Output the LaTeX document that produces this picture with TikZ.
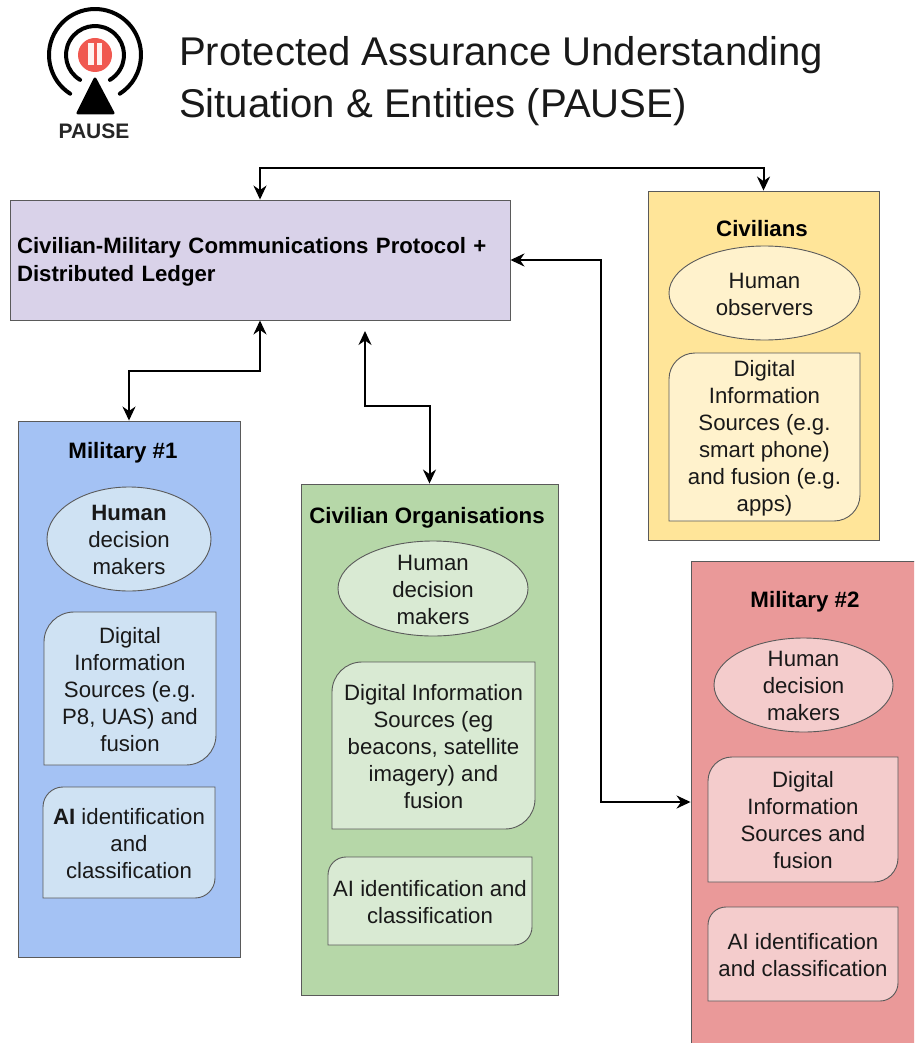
\documentclass[tikz,border=0pt]{standalone}
\usepackage{fontspec}
\setmainfont{Liberation Sans}
\usetikzlibrary{arrows.meta, calc, positioning}
\definecolor{lineg}{RGB}{90,90,90}
\definecolor{ledgerc}{RGB}{217,210,233}
\definecolor{milonec}{RGB}{164,194,244}
\definecolor{milonel}{RGB}{207,226,243}
\definecolor{orgc}{RGB}{182,215,168}
\definecolor{orgl}{RGB}{217,234,211}
\definecolor{civc}{RGB}{255,229,153}
\definecolor{civl}{RGB}{255,242,204}
\definecolor{miltwoc}{RGB}{234,153,153}
\definecolor{miltwol}{RGB}{244,204,204}
\definecolor{pausered}{RGB}{240,88,80}
\tikzset{
  panel/.style={draw=lineg, line width=0.9pt, inner sep=0pt},
  inbox/.style={draw=lineg, line width=0.9pt},
  body/.style={align=center, inner sep=0pt, text=black!90, font=\fontsize{22.2}{27}\selectfont},
  head/.style={inner sep=0pt, font=\fontsize{22.3}{27}\selectfont\bfseries},
  link/.style={line width=2pt, {Stealth[length=14pt,width=13pt,inset=4.5pt]}-{Stealth[length=14pt,width=13pt,inset=4.5pt]}},
}

\begin{document}
\begin{tikzpicture}[x=1pt,y=-1pt]
    \useasboundingbox (0,0) rectangle (914,1043);
    \clip (0,0) rectangle (914,1043);

    \draw[line width=4pt, line cap=round] (95,55) ++(122.7:46) arc (122.7:417.3:46);
    \draw[line width=4pt, line cap=round] (95,55) ++(121:29) arc (121:419:29);
    \fill[pausered] (95,55) circle (17);
    \fill[white!92!pausered] (88,43) rectangle (94,65);
    \fill[white!92!pausered] (97,43) rectangle (102,65);
    \fill[line width=3pt, line join=round, draw] (95,79) -- (113,113) -- (78,113) -- cycle;
    \node[inner sep=0pt, font=\fontsize{21}{21}\selectfont\bfseries, text=black!85] (logo) at (94,131) {PAUSE};
    \node[anchor=west, inner sep=0pt, align=left, font=\fontsize{40.1}{52}\selectfont, text=black!90] (title) at (179,81)
      {Protected Assurance Understanding\\Situation \& Entities (PAUSE)};

    \node[panel, fill=ledgerc, minimum width=500pt, minimum height=120pt, text width=486pt, align=left,
      font=\fontsize{22.2}{28}\selectfont\bfseries] (ledger) at (260,260)
      {\rule{0pt}{20pt}Civilian-Military Communications Protocol +\\Distributed Ledger};
    \node[panel, fill=civc, minimum width=231pt, minimum height=349pt] (civ) at (763.5,365.5) {};
    \node[panel, fill=milonec, minimum width=222pt, minimum height=536pt] (milone) at (129,689) {};
    \node[panel, fill=orgc, minimum width=257pt, minimum height=511pt] (org) at (429.5,739.5) {};
    \node[panel, fill=miltwoc, minimum width=240pt, minimum height=489pt] (miltwo) at (811,805.5) {};

    \node[head] (civtitle) at (762,229) {Civilians};
    \node[head] (milonetitle) at (123,453) {Military \#1};
    \node[head] (orgtitle) at (427,518) {Civilian Organisations};
    \node[head] (miltwotitle) at (805,602) {Military \#2};

    \foreach \n/\x/\y/\rx/\ry/\c/\t in {
      civhuman/764.5/294/95.5/47/civl/{Human\\observers},
      milonehuman/129/540/82/52/milonel/{\textbf{Human}\\decision\\makers},
      orghuman/433/589.5/95/47.5/orgl/{Human\\decision\\makers},
      miltwohuman/803.5/686/89.5/47/miltwol/{Human\\decision\\makers}} {
      \draw[inbox, fill=\c] (\x,\y-1) ellipse [x radius=\rx, y radius=\ry] node[body, yshift=-1pt] (\n) {\t};
    }

    \foreach \n/\xa/\ya/\xb/\yb/\r/\c/\t in {
      civsrc/669/353/860/521/26/civl/{Digital\\Information\\Sources (e.g.\\smart phone)\\and fusion (e.g.\\apps)},
      milonesrc/44/612/216/765/30/milonel/{Digital\\Information\\Sources (e.g.\\P8, UAS) and\\fusion},
      miloneai/43/787/215/898/20/milonel/{\textbf{AI} identification\\and\\classification},
      orgsrc/332/662/535/829/30/orgl/{Digital Information\\Sources (eg\\beacons, satellite\\imagery) and\\fusion},
      orgai/328/857/532/945/18/orgl/{AI identification and\\classification},
      miltwosrc/708/757/898/882/24/miltwol/{Digital\\Information\\Sources and\\fusion},
      miltwoai/708/907/898/1001/18/miltwol/{AI identification\\and classification}} {
      \draw[inbox, fill=\c] (\xa,\yb) [rounded corners=\r pt] -- (\xa,\ya) [sharp corners] -- (\xb,\ya)
        [rounded corners=\r pt] -- (\xb,\yb) [sharp corners] -- cycle;
      \node[body, yshift=-1pt] (\n) at ($(\xa,\ya)!0.5!(\xb,\yb)$) {\t};
    }

    \coordinate (topbus) at (500,168);
    \coordinate (milonebus) at (200,371);
    \coordinate (orgend) at (365,331);
    \coordinate (orgbus) at (400,406);
    \coordinate (miltwobus) at (601,802);
    \draw[link] (ledger.north) |- (topbus) -| (civ.north);
    \draw[link] (ledger.south) |- (milonebus) -| (milone.north);
    \draw[link] (orgend) |- (orgbus) -| (org.north);
    \draw[link] (ledger.east) -| (miltwobus) -- (miltwobus -| miltwo.west);
\end{tikzpicture}
\end{document}
